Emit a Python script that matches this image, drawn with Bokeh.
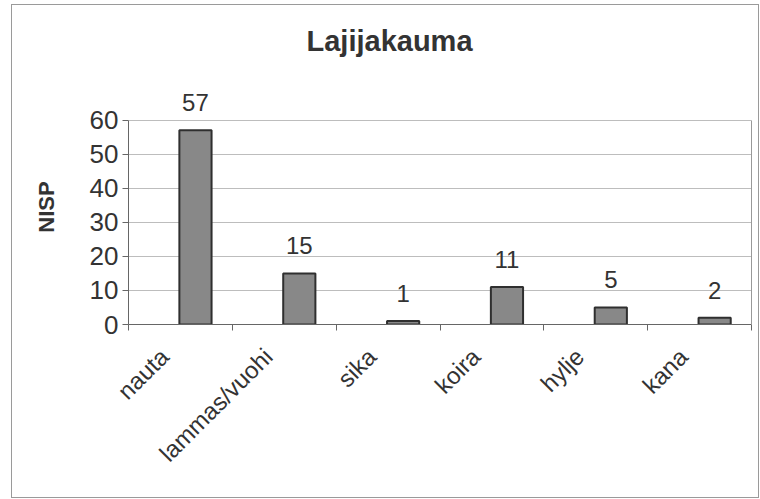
import math
from bokeh.plotting import figure
from bokeh.models import (FixedTicker, Range1d, ColumnDataSource, LabelSet, Title,
                          LinearAxis)
from bokeh.core.properties import value
from bokeh.embed import file_html
from bokeh.resources import INLINE

# ---- data ----
categories = ["nauta", "lammas/vuohi", "sika", "koira", "hylje", "kana"]
values = [57, 15, 1, 11, 5, 2]
y_ticks = [0, 10, 20, 30, 40, 50, 60]
title_text = "Lajijakauma"
y_label = "NISP"

FONT = "Liberation Sans"
TXT = "#333333"

n = len(categories)
idx = list(range(n))                       # tick-label anchors
D = 0.155                                  # label anchor sits left of category centre
bar_x = [i + D + 0.145 for i in idx]       # bars sit slightly right of category centre
bounds = [i + D - 0.5 for i in range(n + 1)]  # category boundaries (tick marks)
y_top = y_ticks[-1]

src = ColumnDataSource(dict(x=bar_x, v=values, t=[str(v) for v in values]))

p = figure(width=748, height=494,
           x_range=Range1d(D - 0.5, n + D - 0.5), y_range=Range1d(0, y_top * 1.15),
           output_backend="svg", toolbar_location=None,
           min_border_left=116, min_border_right=9,
           min_border_top=84, min_border_bottom=175)
p.title = None
# spacer between frame and title (first added = nearest the frame)
spacer = Title(text=" ", text_font=FONT, text_font_size="10px", standoff=20)
p.add_layout(spacer, "above")
t = Title(text=title_text, align="left", text_font=FONT, text_font_size="29px",
          text_font_style="bold", text_color=TXT, offset=178, standoff=0)
p.add_layout(t, "above")

p.vbar(x="x", top="v", width=0.31, bottom=0, source=src,
       fill_color="#888888", line_color="#2f2f2f", line_width=2)

labels = LabelSet(x="x", y="v", text="t", source=src, y_offset=19,
                  text_align="center", text_baseline="alphabetic",
                  text_font=value(FONT), text_font_size="24px", text_color=TXT)
p.add_layout(labels)

# y axis
p.yaxis.ticker = FixedTicker(ticks=y_ticks)
p.yaxis.bounds = (0, y_top)
p.yaxis.axis_label = y_label
p.yaxis.axis_label_text_font = FONT
p.yaxis.axis_label_text_font_size = "22px"
p.yaxis.axis_label_text_font_style = "bold"
p.yaxis.axis_label_text_color = TXT
p.yaxis.axis_label_standoff = 28
p.yaxis.major_label_text_font = FONT
p.yaxis.major_label_text_font_size = "26px"
p.yaxis.major_label_text_color = TXT
p.yaxis.axis_line_color = "#666666"
p.yaxis.major_tick_line_color = "#666666"
p.yaxis.major_tick_out = 6
p.yaxis.major_tick_in = 0
p.yaxis.minor_tick_line_color = None
p.yaxis.major_label_standoff = 4

# right border of plot area
ra = LinearAxis(ticker=FixedTicker(ticks=[]), bounds=(0, y_top),
                axis_line_color="#999999", major_tick_line_color=None,
                minor_tick_line_color=None, major_label_text_font_size="0px")
p.add_layout(ra, "right")

# x axis
p.xaxis.ticker = FixedTicker(ticks=idx, minor_ticks=bounds)
p.xaxis.major_label_overrides = {i: c for i, c in zip(idx, categories)}
p.xaxis.major_label_orientation = math.pi / 4
p.xaxis.major_label_text_font = FONT
p.xaxis.major_label_text_font_size = "24px"
p.xaxis.major_label_text_color = TXT
p.xaxis.major_label_standoff = 22
p.xaxis.axis_line_color = "#666666"
p.xaxis.major_tick_line_color = None
p.xaxis.minor_tick_line_color = "#666666"
p.xaxis.minor_tick_out = 6
p.xaxis.minor_tick_in = 0

p.xgrid.grid_line_color = None
p.ygrid.grid_line_color = "#bdbdbd"
p.ygrid.ticker = FixedTicker(ticks=y_ticks[1:])
p.outline_line_color = None
p.background_fill_color = "white"
p.border_fill_color = "white"
p.styles = {"border": "1px solid #9a9a9a", "margin-left": "11px", "margin-top": "4px"}

open("out.html", "w").write(file_html(p, INLINE))
